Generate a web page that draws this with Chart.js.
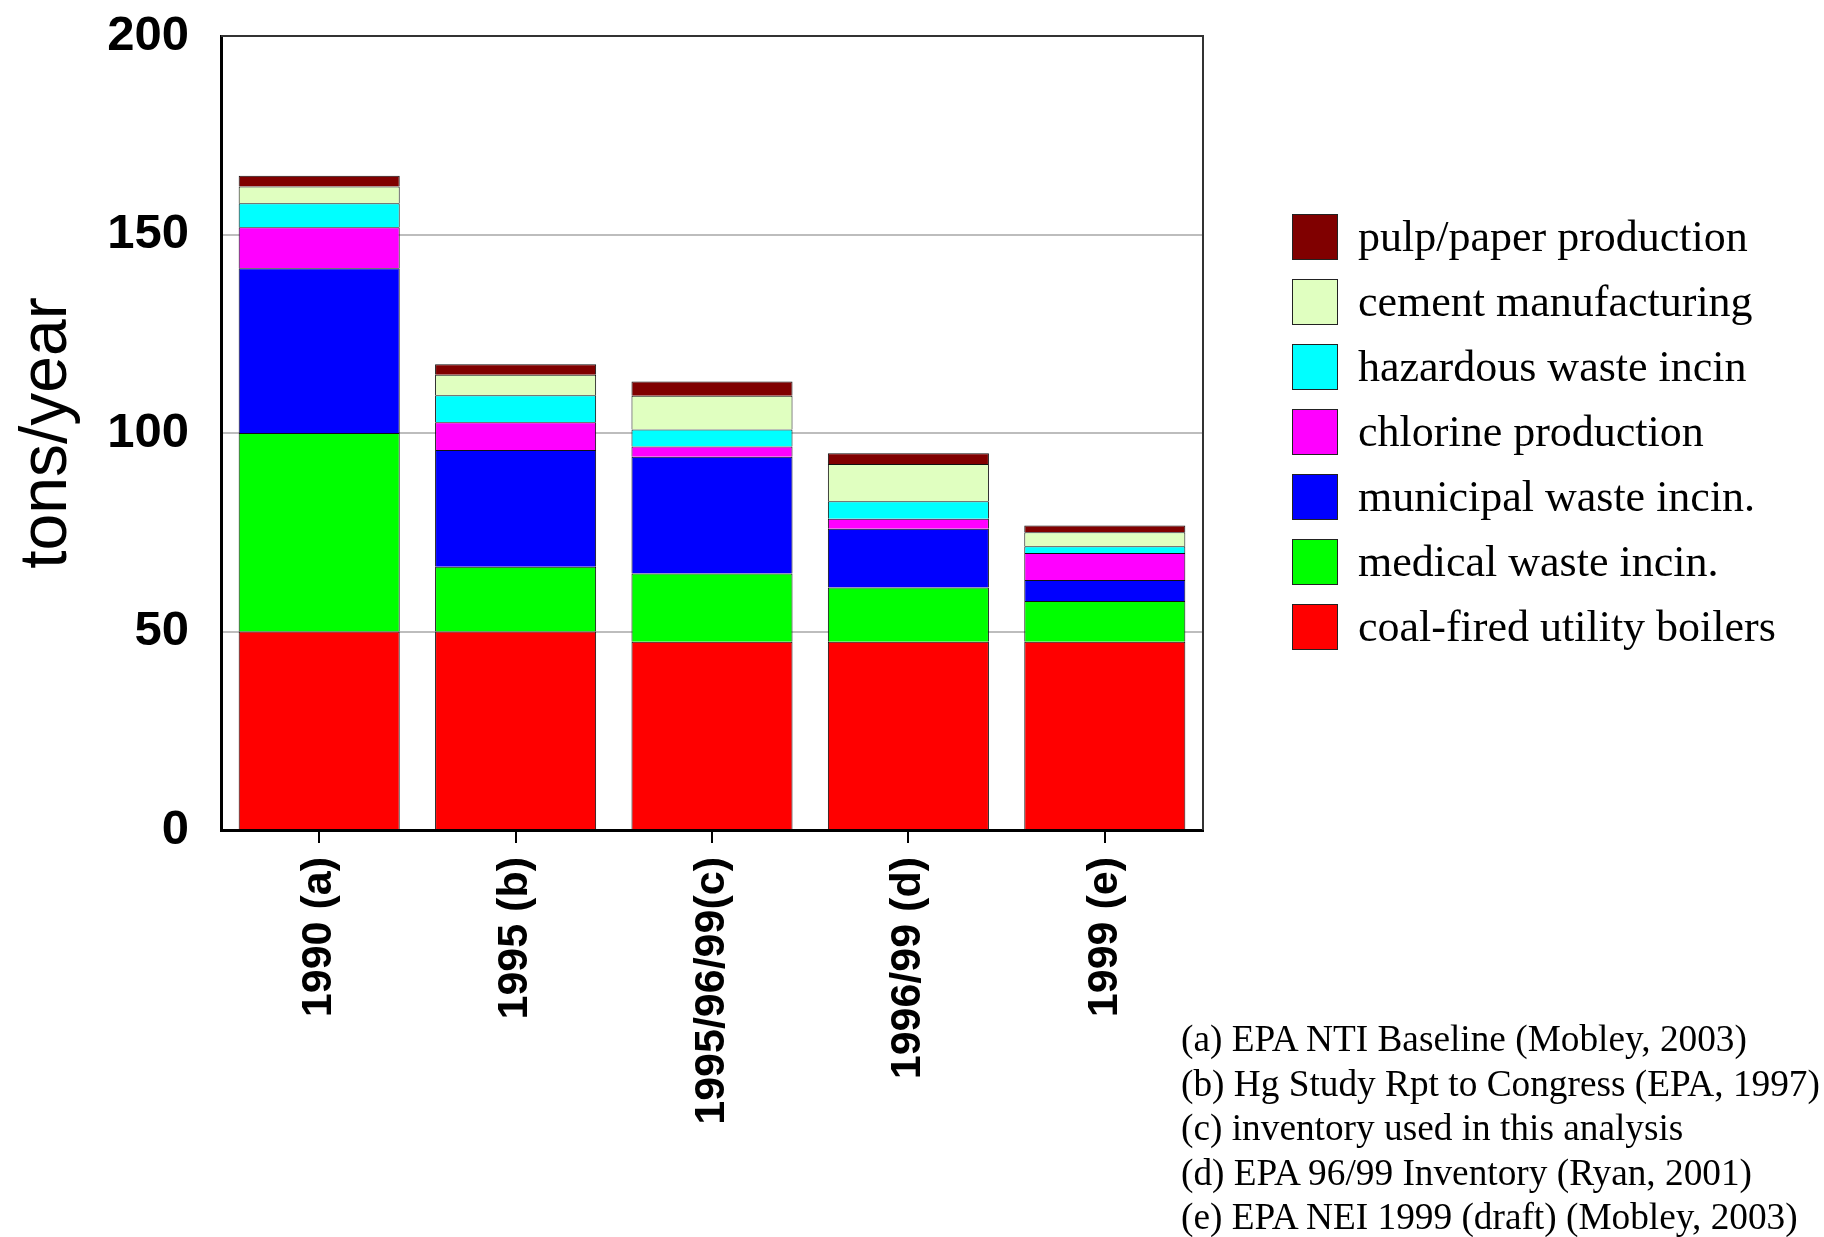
<!DOCTYPE html>
<html>
<head>
<meta charset="utf-8">
<script src="https://cdn.jsdelivr.net/npm/chart.js@4"></script>
<style>
  body { margin: 0; background: #fff; }
  #wrap { position: relative; width: 1824px; height: 1237px; }
  #legend { position: absolute; left: 1292px; top: 213px; font-family: "Liberation Serif", "Times New Roman", serif; font-size: 44px; color: #000; }
  .item { display: flex; align-items: center; height: 65px; margin-top: 0; }
  .item:first-child { margin-top: -9px; }
  .box { width: 44px; height: 44px; border: 1px solid #222; margin-right: 20px; flex: none; }
  #notes { position: absolute; left: 1181px; top: 1017px; font-family: "Liberation Serif", "Times New Roman", serif; font-size: 37.3px; line-height: 44.5px; color: #000; white-space: nowrap; }
</style>
</head>
<body>
<div id="wrap">
  <canvas id="chart" width="1824" height="1237"></canvas>
  <div id="legend"></div>
  <div id="notes"></div>
</div>
<script>
const categories = ['1990 (a)', '1995 (b)', '1995/96/99(c)', '1996/99 (d)', '1999 (e)'];

// stacked from bottom to top
const coal      = [50, 50, 47.4, 47.4, 47.4];
const medical   = [50, 16.3, 17.2, 13.7, 10.3];
const municipal = [41.5, 29.4, 29.4, 14.8, 5.3];
const chlorine  = [10.3, 7.0, 2.6, 2.5, 6.8];
const hazardous = [6.1, 6.8, 4.3, 4.4, 1.7];
const cement    = [4.2, 5.2, 8.5, 9.4, 3.5];
const pulp      = [2.7, 2.6, 3.6, 2.7, 1.7];

const seriesNames = ['coal-fired utility boilers', 'medical waste incin.', 'municipal waste incin.',
  'chlorine production', 'hazardous waste incin', 'cement manufacturing', 'pulp/paper production'];
const seriesData = [coal, medical, municipal, chlorine, hazardous, cement, pulp];
const seriesColors = ['#ff0000', '#00ff00', '#0000ff', '#ff00ff', '#00ffff', '#e0ffc0', '#800000'];

const yTicks = [0, 50, 100, 150, 200];

const notes = [
  '(a) EPA NTI Baseline (Mobley, 2003)',
  '(b) Hg Study Rpt to Congress (EPA, 1997)',
  '(c) inventory used in this analysis',
  '(d) EPA 96/99 Inventory (Ryan, 2001)',
  '(e) EPA NEI 1999 (draft) (Mobley, 2003)'
];

// frame on top and right of the plot
const frame = {
  id: 'frame',
  afterDraw(chart) {
    const { ctx, chartArea: a } = chart;
    ctx.save();
    ctx.strokeStyle = '#333';
    ctx.lineWidth = 2;
    ctx.beginPath();
    ctx.moveTo(a.left, a.top);
    ctx.lineTo(a.right, a.top);
    ctx.lineTo(a.right, a.bottom);
    ctx.stroke();
    ctx.restore();
  }
};

const chart = new Chart(document.getElementById('chart').getContext('2d'), {
  type: 'bar',
  data: {
    labels: categories,
    datasets: seriesNames.map((name, i) => ({
      label: name,
      data: seriesData[i],
      backgroundColor: seriesColors[i],
      borderColor: '#111',
      borderWidth: 1,
      barPercentage: 0.82,
      categoryPercentage: 1
    }))
  },
  options: {
    responsive: false,
    animation: false,
    layout: { padding: { left: 4, top: 36, right: 621, bottom: 0 } },
    plugins: { legend: { display: false }, tooltip: { enabled: false } },
    scales: {
      x: {
        stacked: true,
        afterFit: s => { s.height = 1237 - 830; s.paddingLeft = 0; s.paddingRight = 0; },
        grid: { offset: false, drawOnChartArea: false, color: '#000', lineWidth: 2, tickLength: 13 },
        border: { color: '#000', width: 3 },
        ticks: {
          maxRotation: 90, minRotation: 90, padding: 14, color: '#000',
          font: { family: '"Liberation Sans", Arial, sans-serif', size: 43, weight: 'bold' }
        }
      },
      y: {
        stacked: true,
        min: 0, max: 200,
        afterFit: s => { s.width = 221 - 4; s.paddingTop = 0; s.paddingBottom = 0; },
        afterBuildTicks: s => { s.ticks = yTicks.map(v => ({ value: v })); },
        grid: {
          drawTicks: false, lineWidth: 2,
          color: c => (c.tick.value === 0 || c.tick.value === 200) ? 'rgba(0,0,0,0)' : '#bdbdbd'
        },
        border: { color: '#000', width: 3 },
        ticks: {
          padding: 32, color: '#000',
          font: { family: '"Liberation Sans", Arial, sans-serif', size: 49, weight: 'bold' }
        },
        title: {
          display: true, text: 'tons/year', color: '#000',
          font: { family: '"Liberation Sans", Arial, sans-serif', size: 66 }
        }
      }
    }
  },
  plugins: [frame]
});

// legend, top item is the top of the stack
const legend = document.getElementById('legend');
for (let i = seriesNames.length - 1; i >= 0; i--) {
  const row = document.createElement('div');
  row.className = 'item';
  row.innerHTML = '<div class="box" style="background:' + seriesColors[i] + '"></div><span>' + seriesNames[i] + '</span>';
  legend.appendChild(row);
}

document.getElementById('notes').innerHTML = notes.join('<br>');
</script>
</body>
</html>
